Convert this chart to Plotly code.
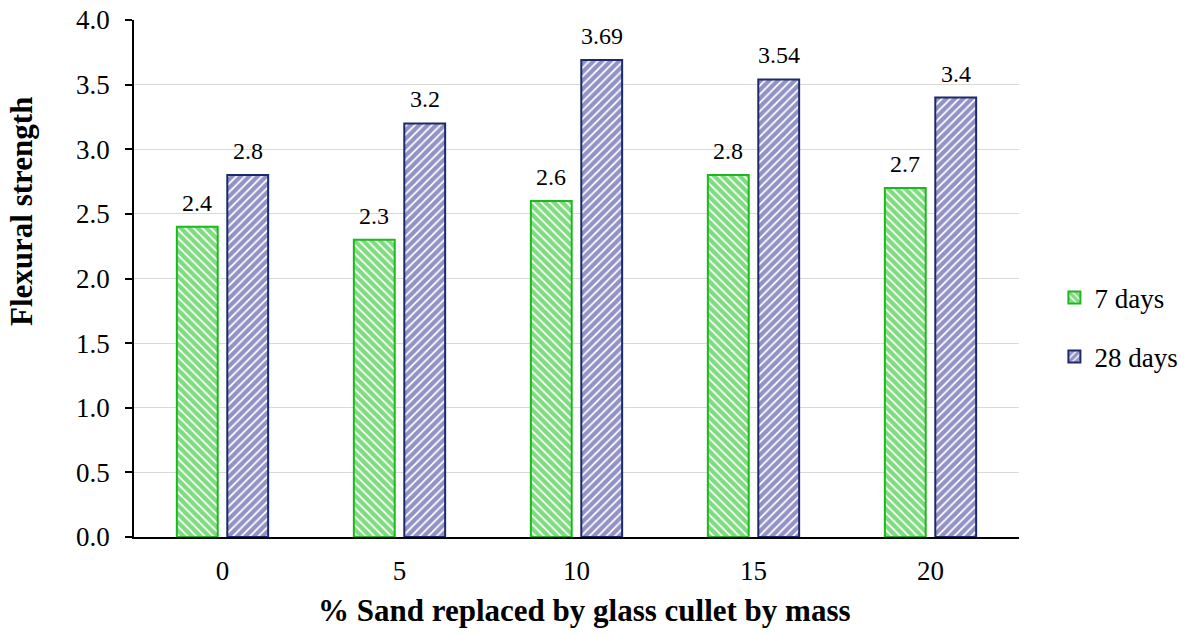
import plotly.graph_objects as go

# Flexural strength of mortar with sand partly replaced by glass cullet
replacement_pct = ["0", "5", "10", "15", "20"]
strength_7d = [2.4, 2.3, 2.6, 2.8, 2.7]
strength_28d = [2.8, 3.2, 3.69, 3.54, 3.4]

FONT = "Liberation Serif, Times New Roman, serif"
GREEN_FG = "#00B800"
GREEN_LINE = "#1DB81D"
NAVY_FG = "#26268E"
NAVY_LINE = "#1C2A6B"

fig = go.Figure()

fig.add_trace(go.Bar(
    name="7 days",
    x=replacement_pct,
    y=strength_7d,
    legendgroup="g7",
    marker=dict(
        color=GREEN_FG,
        line=dict(color=GREEN_LINE, width=2),
        pattern=dict(shape="\\", fgcolor=GREEN_FG, bgcolor="white",
                     size=6, solidity=0.7),
    ),
))
fig.add_trace(go.Bar(
    name="28 days",
    x=replacement_pct,
    y=strength_28d,
    legendgroup="g28",
    marker=dict(
        color=NAVY_FG,
        line=dict(color=NAVY_LINE, width=2),
        pattern=dict(shape="/", fgcolor=NAVY_FG, bgcolor="white",
                     size=6, solidity=0.7),
    ),
))

# value labels above each bar; x is the category index, shifted to the
# bar's slot within its group
annotations = []
slot_px = 25.25
for series, shift in ((strength_7d, -slot_px), (strength_28d, slot_px)):
    for idx, val in enumerate(series):
        annotations.append(dict(
            x=idx, y=val, xref="x", yref="y",
            text=f"{val:g}", showarrow=False,
            xshift=shift, yshift=9, yanchor="bottom",
            font=dict(family=FONT, size=24, color="black"),
        ))

# axis titles
annotations.append(dict(
    x=0.5096, y=-0.1412, xref="paper", yref="paper",
    text="<b>% Sand replaced by glass cullet by mass</b>", showarrow=False,
    xanchor="center", yanchor="middle",
    font=dict(family=FONT, size=31, color="black"),
))
annotations.append(dict(
    x=-0.1266, y=0.6306, xref="paper", yref="paper",
    text="<b>Flexural strength</b>", showarrow=False, textangle=-90,
    xanchor="center", yanchor="middle",
    font=dict(family=FONT, size=31, color="black"),
))

fig.update_layout(
    width=1189, height=637,
    margin=dict(l=134, r=170, t=20, b=100, autoexpand=False),
    paper_bgcolor="white", plot_bgcolor="white",
    font=dict(family=FONT, size=27, color="black"),
    barmode="group",
    bargap=0.43,
    bargroupgap=0.19,
    annotations=annotations,
    legend=dict(
        x=1.04, xanchor="left",
        y=0.51, yanchor="top",
        font=dict(family=FONT, size=27, color="black"),
        tracegroupgap=21,
        bgcolor="rgba(0,0,0,0)",
    ),
    xaxis=dict(
        type="category",
        range=[-0.5, len(replacement_pct) - 0.5],
        showline=True, linecolor="black", linewidth=2,
        ticks="outside", ticklen=0,
        ticklabelstandoff=9,
        tickfont=dict(family=FONT, size=27, color="black"),
        showgrid=False, zeroline=False,
    ),
    yaxis=dict(
        range=[0, 4], dtick=0.5, tick0=0, tickformat=".1f",
        showline=True, linecolor="black", linewidth=1.5,
        ticks="outside", ticklen=7, tickwidth=1.5, tickcolor="black",
        ticklabelstandoff=10,
        tickfont=dict(family=FONT, size=27, color="black"),
        showgrid=True, gridcolor="#D9D9D9", gridwidth=1.3,
        zeroline=False,
    ),
)

fig.write_html("out.html")
